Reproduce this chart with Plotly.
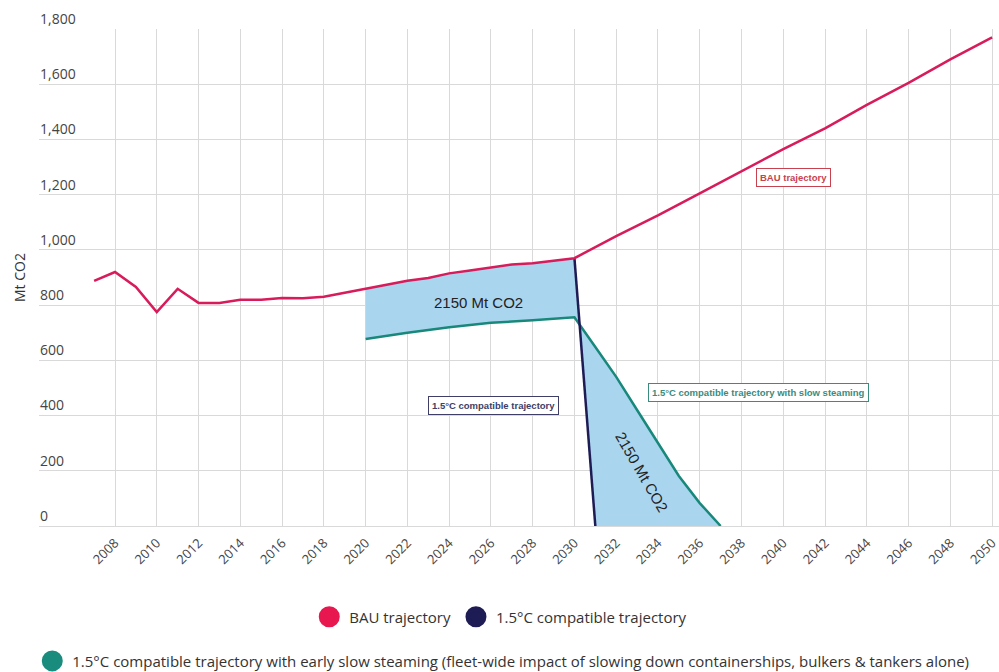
import plotly.graph_objects as go

# ---- data ----
bau_years = [2007, 2008, 2009, 2010, 2011, 2012, 2013, 2014, 2015, 2016, 2017, 2018,
             2019, 2020, 2021, 2022, 2023, 2024, 2025, 2026, 2027, 2028, 2029, 2030,
             2032, 2034, 2036, 2038, 2040, 2042, 2044, 2046, 2048, 2050]
bau_values = [888, 920, 866, 775, 859, 808, 808, 819, 819, 826, 825, 830,
              845, 860, 875, 888, 898, 915, 925, 937, 947, 952, 962, 970,
              1050, 1125, 1205, 1285, 1365, 1440, 1525, 1605, 1690, 1770]

comp_years = [2030, 2031]
comp_values = [970, 0]

slow_years = [2020, 2022, 2024, 2026, 2028, 2030, 2031, 2032, 2033, 2034, 2035, 2036, 2037]
slow_values = [677, 700, 720, 736, 745, 756, 648, 540, 420, 301, 181, 83, 0]

x_ticks = list(range(2008, 2051, 2))
y_ticks = [0, 200, 400, 600, 800, 1000, 1200, 1400, 1600, 1800]
y_tick_text = ["0", "200", "400", "600", "800", "1,000", "1,200", "1,400", "1,600", "1,800"]

RED = "#D81B5A"
NAVY = "#1E1C55"
TEAL = "#18887B"
FILL = "#AAD5EE"

# ---- shaded gap polygon (built from the series) ----
bau_gap = [(x, y) for x, y in zip(bau_years, bau_values) if 2020 <= x <= 2030]
poly_x = [p[0] for p in bau_gap] + [comp_years[-1]] + slow_years[::-1]
poly_y = [p[1] for p in bau_gap] + [comp_values[-1]] + slow_values[::-1]

fig = go.Figure()
fig.add_trace(go.Scatter(x=poly_x, y=poly_y, fill="toself", fillcolor=FILL,
                         mode="none", showlegend=False, hoverinfo="skip"))
fig.add_trace(go.Scatter(x=slow_years, y=slow_values, mode="lines",
                         line=dict(color=TEAL, width=2.5), showlegend=False))
fig.add_trace(go.Scatter(x=comp_years, y=comp_values, mode="lines",
                         line=dict(color=NAVY, width=2.5), showlegend=False))
fig.add_trace(go.Scatter(x=bau_years, y=bau_values, mode="lines",
                         line=dict(color=RED, width=2.5), showlegend=False))

# legend entries
fig.add_trace(go.Scatter(x=[None], y=[None], mode="markers", name="BAU trajectory",
                         marker=dict(color="#E8174F", size=16, line=dict(color="#E8174F", width=5)),
                         legend="legend"))
fig.add_trace(go.Scatter(x=[None], y=[None], mode="markers", name="1.5°C compatible trajectory",
                         marker=dict(color=NAVY, size=16, line=dict(color=NAVY, width=5)),
                         legend="legend"))
fig.add_trace(go.Scatter(x=[None], y=[None], mode="markers",
                         name="1.5°C compatible trajectory with early slow steaming (fleet-wide impact of slowing down containerships, bulkers & tankers alone)",
                         marker=dict(color="#1A8C7E", size=16, line=dict(color="#1A8C7E", width=5)),
                         legend="legend2"))

box_font = dict(family="Arial", size=9.5)
fig.add_annotation(x=2040.5, y=1261, text="<b>BAU trajectory</b>", showarrow=False,
                   font=dict(color="#C8414F", **box_font), bordercolor="#C8414F",
                   borderwidth=1, borderpad=3, bgcolor="white")
fig.add_annotation(x=2026.1, y=438, text="<b>1.5°C compatible trajectory</b>", showarrow=False,
                   font=dict(color="#3E3E66", **box_font), bordercolor="#3E3E66",
                   borderwidth=1, borderpad=3, bgcolor="white")
fig.add_annotation(x=2038.8, y=482, text="<b>1.5°C compatible trajectory with slow steaming</b>",
                   showarrow=False, font=dict(color="#3A8C7E", **box_font), bordercolor="#3A8C7E",
                   borderwidth=1, borderpad=3, bgcolor="white")
fig.add_annotation(x=2025.4, y=808, text="2150 Mt CO2", showarrow=False,
                   font=dict(family="Arial", size=15, color="#222222"))
fig.add_annotation(x=2033.2, y=196, text="2150 Mt CO2", showarrow=False, textangle=60,
                   font=dict(family="Arial", size=15, color="#222222"))

fig.update_layout(
    width=999, height=672,
    margin=dict(l=39, r=0, t=29, b=146, autoexpand=False),
    plot_bgcolor="white", paper_bgcolor="white",
    font=dict(family="Open Sans", color="#444444"),
    xaxis=dict(range=[2004.36, 2050.33], tickvals=x_ticks, tickangle=-45,
               showgrid=True, gridcolor="#D9D9D9", gridwidth=1, zeroline=False,
               showline=False, ticks="", tickfont=dict(size=13, color="#444444"),
               ticklabelshift=0, ticklabelstandoff=6, automargin=False,
               ticklabeloverflow="allow"),
    yaxis=dict(range=[0, 1800], tickvals=y_ticks, ticktext=y_tick_text,
               ticklabelposition="inside", ticklabelshift=-10, ticklabelstandoff=-2,
               ticklabeloverflow="allow", automargin=False,
               showgrid=True, gridcolor="#D9D9D9", gridwidth=1, zeroline=True,
               zerolinecolor="#D9D9D9", zerolinewidth=1, showline=False, ticks="",
               tickfont=dict(size=14, color="#444444"),
               title=dict(text="Mt CO2", font=dict(size=14, color="#333333"), standoff=11)),
    legend=dict(orientation="h", x=0.481, xanchor="center", y=-0.183, yanchor="middle",
                font=dict(size=15, color="#333333"), bgcolor="rgba(0,0,0,0)"),
    legend2=dict(orientation="h", x=-0.007, xanchor="left", y=-0.272, yanchor="middle",
                 font=dict(size=15, color="#333333"), bgcolor="rgba(0,0,0,0)"),
    showlegend=True,
)

fig.write_html("out.html", config={"displayModeBar": False},
               post_script="document.body.style.margin='0';document.body.style.padding='0';")
